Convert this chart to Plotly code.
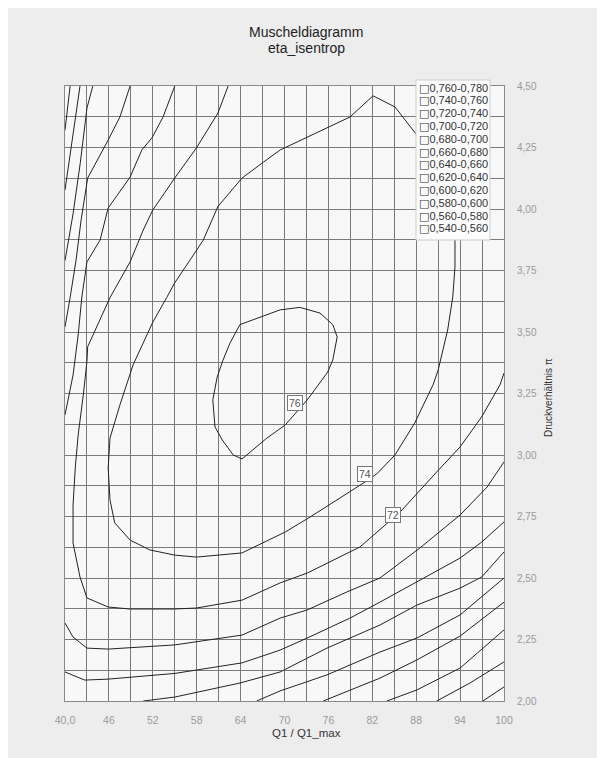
import plotly.graph_objects as go

# ---------------- data ----------------
X_TICKS = [40, 46, 52, 58, 64, 70, 76, 82, 88, 94, 100]
X_TICK_TEXT = ["40,0", "46", "52", "58", "64", "70", "76", "82", "88", "94", "100"]
Y_TICKS = [2.0, 2.25, 2.5, 2.75, 3.0, 3.25, 3.5, 3.75, 4.0, 4.25, 4.5]
Y_TICK_TEXT = ["2,00", "2,25", "2,50", "2,75", "3,00", "3,25", "3,50", "3,75", "4,00", "4,25", "4,50"]

LEGEND_LABELS = ["0,760-0,780", "0,740-0,760", "0,720-0,740", "0,700-0,720",
                 "0,680-0,700", "0,660-0,680", "0,640-0,660", "0,620-0,640",
                 "0,600-0,620", "0,580-0,600", "0,560-0,580", "0,540-0,560"]

# contour 76 (closed)
C76_X = [63.9, 69.4, 72.1, 74.85, 76.6, 77.2, 76.6, 75.9, 74.4, 73.1, 70.1, 67.6, 64.2, 63.0, 61.5, 60.5, 60.2, 60.8, 61.6, 62.55, 63.9]
C76_Y = [3.53, 3.59, 3.60, 3.577, 3.53, 3.48, 3.386, 3.337, 3.276, 3.224, 3.122, 3.069, 2.984, 3.0, 3.061, 3.114, 3.224, 3.317, 3.386, 3.455, 3.53]

# contour 74 (closed)
C74_X = [46.15, 46.8, 48.9, 51.6, 55.0, 58.0, 64.2, 70.1, 73.5, 77.6, 81.0, 82.6, 85.1, 87.8, 90.3, 91.0, 92.3, 93.0, 93.3, 93.3, 92.9, 90.6, 88.1, 85.1, 82.1, 78.95, 73.1, 69.4, 67.1, 64.2, 60.9, 58.9, 58.0, 55.0, 53.9, 52.0, 49.3, 47.5, 46.15, 45.9, 46.15]
C74_Y = [2.817, 2.724, 2.654, 2.614, 2.593, 2.585, 2.602, 2.687, 2.748, 2.825, 2.89, 2.923, 3.0, 3.13, 3.285, 3.345, 3.508, 3.642, 3.764, 3.886, 4.057, 4.22, 4.30, 4.415, 4.46, 4.374, 4.29, 4.24, 4.19, 4.126, 4.01, 3.874, 3.833, 3.70, 3.64, 3.54, 3.366, 3.203, 3.069, 2.947, 2.817]

# contour 72
C72_X = [62.3, 60.9, 58.0, 55.0, 52.0, 50.7, 48.9, 46.15, 43.1, 43.0, 42.5, 41.8, 41.4, 41.1, 41.1, 42.05, 43.0, 45.9, 48.9, 55.0, 58.0, 64.2, 69.4, 73.1, 80.3, 85.8, 90.8, 94.0, 96.95, 99.45, 100]
C72_Y = [4.5, 4.39, 4.25, 4.126, 3.996, 3.915, 3.785, 3.64, 3.44, 3.38, 3.244, 3.081, 2.947, 2.797, 2.642, 2.504, 2.419, 2.382, 2.374, 2.374, 2.378, 2.41, 2.48, 2.52, 2.626, 2.768, 2.931, 3.033, 3.155, 3.285, 3.333]

# contour 70 (two pieces)
C70A_X = [55.0, 53.4, 51.9, 50.5, 48.9, 45.9, 44.8, 43.0, 42.3, 41.8, 41.1, 40.0]
C70A_Y = [4.5, 4.374, 4.29, 4.24, 4.13, 4.004, 3.874, 3.785, 3.642, 3.488, 3.325, 3.163]
C70B_X = [40.0, 41.1, 43.0, 45.9, 55.0, 64.2, 69.4, 73.1, 78.5, 83.05, 88.5, 94.0, 97.7, 100]
C70B_Y = [2.317, 2.26, 2.215, 2.211, 2.228, 2.268, 2.337, 2.37, 2.443, 2.5, 2.622, 2.756, 2.87, 2.972]

# contour 68 (two pieces)
C68A_X = [48.9, 47.5, 45.9, 43.1, 42.2, 41.5, 40.7, 40.0]
C68A_Y = [4.5, 4.374, 4.28, 4.126, 3.955, 3.79, 3.64, 3.52]
C68B_X = [40.0, 42.7, 45.9, 55.0, 64.2, 69.4, 73.1, 78.95, 83.05, 88.1, 94.0, 96.95, 100]
C68B_Y = [2.118, 2.085, 2.089, 2.112, 2.155, 2.207, 2.256, 2.337, 2.402, 2.484, 2.581, 2.646, 2.728]

# contour 66 (two pieces)
C66A_X = [43.8, 43.0, 42.1, 41.1, 40.0]
C66A_Y = [4.5, 4.41, 4.19, 3.98, 3.79]
C66B_X = [50.7, 55.0, 63.9, 69.4, 75.8, 83.05, 88.1, 94.0, 96.95, 100]
C66B_Y = [2.0, 2.016, 2.073, 2.118, 2.215, 2.309, 2.39, 2.459, 2.504, 2.606]

# contour 64 (two pieces)
C64A_X = [42.05, 41.0, 40.0]
C64A_Y = [4.5, 4.28, 4.077]
C64B_X = [66.2, 69.4, 75.8, 83.05, 88.1, 94.0, 100]
C64B_Y = [2.0, 2.041, 2.106, 2.199, 2.256, 2.35, 2.5]

# contour 62 (two pieces)
C62A_X = [40.7, 40.0]
C62A_Y = [4.5, 4.32]
C62B_X = [75.3, 78.95, 83.05, 88.1, 94.0, 100]
C62B_Y = [2.0, 2.045, 2.093, 2.167, 2.264, 2.402]

# contours 60, 58, 56
C60_X = [84.0, 88.1, 94.0, 100]
C60_Y = [2.0, 2.045, 2.134, 2.289]
C58_X = [90.8, 95.35, 100]
C58_Y = [2.0, 2.073, 2.159]
C56_X = [97.1, 100]
C56_Y = [2.0, 2.057]

# contour labels
LABEL_TEXT = ["76", "74", "72"]
LABEL_X = [71.4, 81.0, 84.8]
LABEL_Y = [3.211, 2.923, 2.756]

TITLE_LINES = ["Muscheldiagramm", "eta_isentrop"]

# ---------------- figure ----------------
FONT = "Liberation Sans, Arial, sans-serif"
fig = go.Figure()

pieces = [(C76_X, C76_Y), (C74_X, C74_Y), (C72_X, C72_Y),
          (C70A_X, C70A_Y), (C70B_X, C70B_Y),
          (C68A_X, C68A_Y), (C68B_X, C68B_Y),
          (C66A_X, C66A_Y), (C66B_X, C66B_Y),
          (C64A_X, C64A_Y), (C64B_X, C64B_Y),
          (C62A_X, C62A_Y), (C62B_X, C62B_Y),
          (C60_X, C60_Y), (C58_X, C58_Y), (C56_X, C56_Y)]
for xs, ys in pieces:
    fig.add_trace(go.Scatter(x=xs, y=ys, mode="lines",
                             line=dict(color="#222222", width=1),
                             hoverinfo="skip", showlegend=False))

for t, lx, ly in zip(LABEL_TEXT, LABEL_X, LABEL_Y):
    fig.add_annotation(x=lx, y=ly, xref="x", yref="y", text=t, showarrow=False,
                       font=dict(family=FONT, size=10.5, color="#555555"),
                       bgcolor="#ffffff", bordercolor="#777777", borderwidth=1, borderpad=1)

# screen -> paper helpers (plot area on screen: x 65..504, y 86..701)
def px(sx):
    return (sx - 65) / 439.0

def py(sy):
    return (701 - sy) / 615.0

# legend box (as shapes + text)
fig.add_shape(type="rect", xref="paper", yref="paper",
              x0=px(416), x1=px(490), y0=py(240), y1=py(80),
              fillcolor="#fcfcfc", line=dict(color="#cccccc", width=1), layer="above")
for i, lab in enumerate(LEGEND_LABELS):
    sy = 88 + i * 12.8
    fig.add_annotation(x=px(417), y=py(sy), xref="paper", yref="paper",
                       xanchor="left", yanchor="middle", showarrow=False,
                       text='<span style="font-family:DejaVu Sans">\u25a1</span>' + lab,
                       font=dict(family=FONT, size=11, color="#333333"))

# title (two lines)
for line, sy in zip(TITLE_LINES, [32, 48]):
    fig.add_annotation(x=px(306), y=py(sy), xref="paper", yref="paper",
                       text=line, showarrow=False, xanchor="center", yanchor="middle",
                       font=dict(family=FONT, size=14, color="#222222"))

# axis titles
fig.add_annotation(x=px(306), y=py(733), xref="paper", yref="paper",
                   text="Q1 / Q1_max", showarrow=False, xanchor="center", yanchor="middle",
                   font=dict(family=FONT, size=11.5, color="#333333"))
fig.add_annotation(x=px(548), y=py(398), xref="paper", yref="paper",
                   text="Druckverhältnis π", showarrow=False, textangle=-90,
                   xanchor="center", yanchor="middle",
                   font=dict(family=FONT, size=10, color="#333333"))

GRID = "#7a7a7a"
fig.update_layout(
    width=597, height=750, autosize=False,
    margin=dict(l=57, r=101, t=78, b=57),
    paper_bgcolor="#ededed", plot_bgcolor="#f8f8f8",
    xaxis=dict(range=[40, 100], tickvals=X_TICKS, ticktext=X_TICK_TEXT,
               showgrid=True, gridcolor=GRID, gridwidth=1, zeroline=False,
               minor=dict(dtick=3, tick0=40, showgrid=True, gridcolor=GRID, gridwidth=1),
               showline=True, mirror=True, linecolor="#8a8a8a", linewidth=1,
               ticks="", ticklabelstandoff=9,
               tickfont=dict(family=FONT, size=10.5, color="#9a9a9a")),
    yaxis=dict(range=[2, 4.5], tickvals=Y_TICKS, ticktext=Y_TICK_TEXT, side="right",
               showgrid=True, gridcolor=GRID, gridwidth=1, zeroline=False,
               minor=dict(dtick=0.125, tick0=2, showgrid=True, gridcolor=GRID, gridwidth=1),
               showline=True, mirror=True, linecolor="#8a8a8a", linewidth=1,
               ticks="", ticklabelstandoff=10,
               tickfont=dict(family=FONT, size=10, color="#9a9a9a")),
    showlegend=False,
)

fig.write_html("out.html")
